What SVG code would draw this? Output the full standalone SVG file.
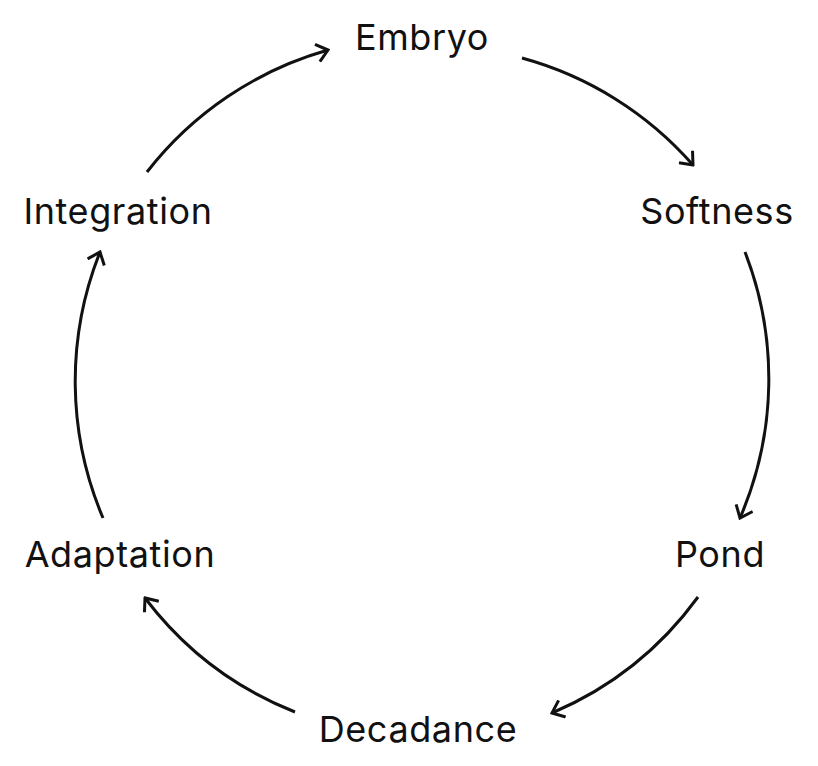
<svg xmlns="http://www.w3.org/2000/svg" width="818" height="766" viewBox="0 0 818 766">
<style>
.l{font-family:"Inter","Liberation Sans",sans-serif;font-size:36px;letter-spacing:0.6px;fill:#111;text-anchor:middle}
.c{fill:none;stroke:#111;stroke-width:3;marker-end:url(#a)}
</style>
<defs>
<marker id="a" viewBox="-12 -10 14 20" markerWidth="14" markerHeight="20" refX="0" refY="0" orient="auto" markerUnits="userSpaceOnUse">
<path d="M-11,-9 L0,0 L-11,9" fill="none" stroke="#111" stroke-width="3"/>
</marker>
</defs>
<rect width="818" height="766" fill="#fff"/>
<g id="connectors">
<path class="c" d="M522,58 A350 350 0 0 1 693,165"/>
<path class="c" d="M745,252 A350 350 0 0 1 740,518"/>
<path class="c" d="M698,597 A350 350 0 0 1 552,713"/>
<path class="c" d="M295,712 A350 350 0 0 1 145,598"/>
<path class="c" d="M103,518 A350 350 0 0 1 100,252"/>
<path class="c" d="M147,172 A350 350 0 0 1 328,50"/>
</g>
<g id="embryo"><text class="l" x="422" y="50">Embryo</text></g>
<g id="softness"><text class="l" x="717" y="224">Softness</text></g>
<g id="pond"><text class="l" x="720" y="567">Pond</text></g>
<g id="decadance"><text class="l" x="418" y="742">Decadance</text></g>
<g id="adaptation"><text class="l" x="120" y="567">Adaptation</text></g>
<g id="integration"><text class="l" x="118" y="224">Integration</text></g>
</svg>
